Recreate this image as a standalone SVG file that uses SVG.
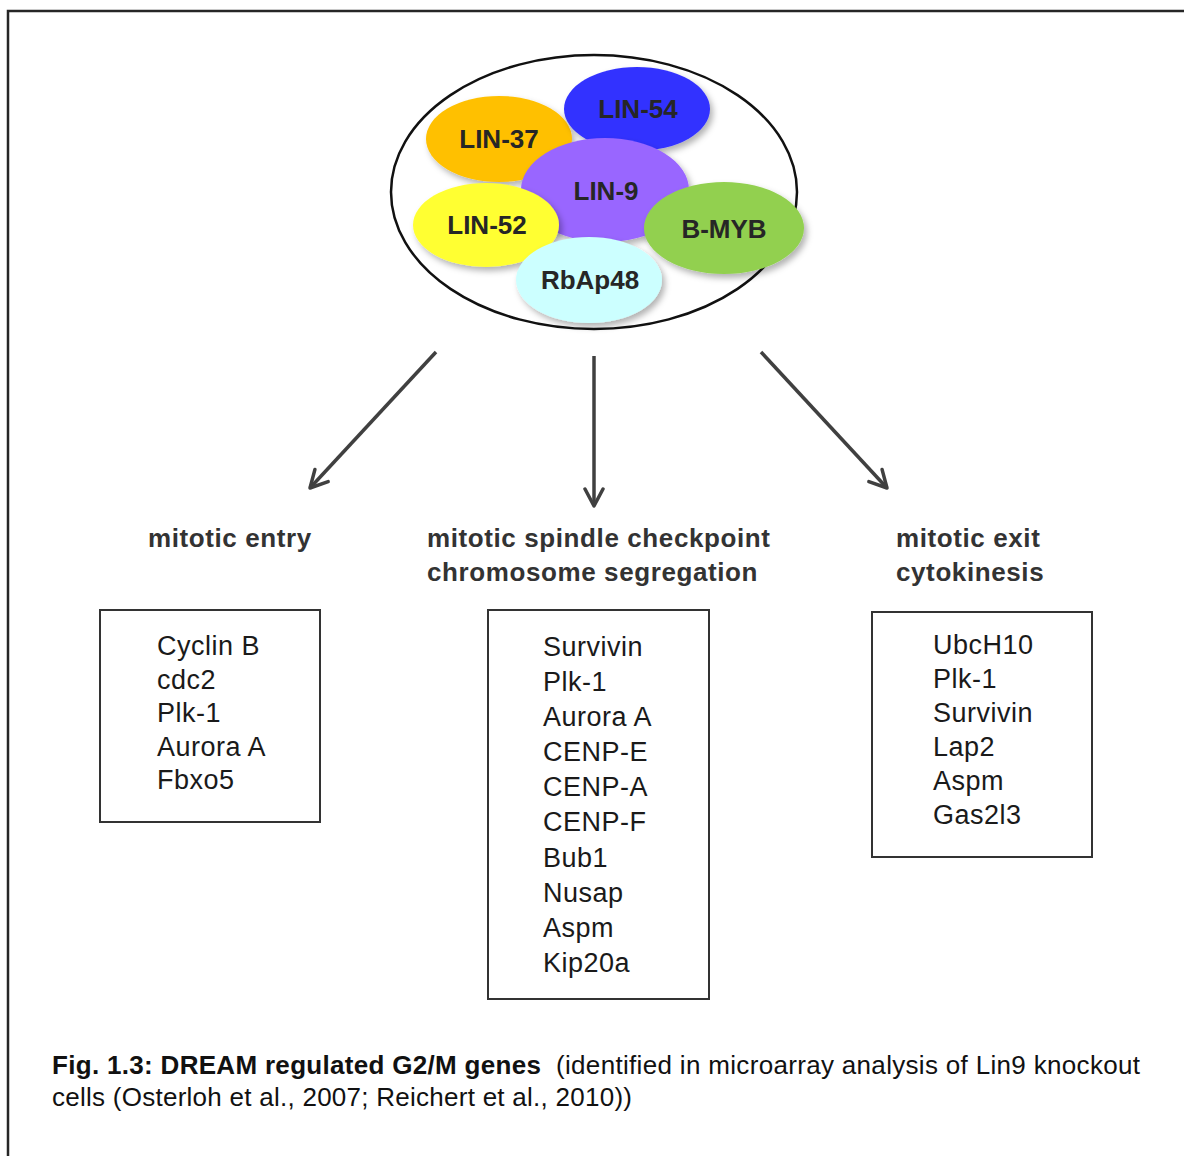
<svg xmlns="http://www.w3.org/2000/svg" width="1184" height="1156" viewBox="0 0 1184 1156">
<style>
.frame{fill:none;stroke:#262626;stroke-width:2.5}
.blob{filter:url(#sh)}
.lab{font-family:"Liberation Sans",Arial,sans-serif;font-weight:bold;font-size:26px;fill:#262626;text-anchor:middle}
.head{font-family:"Liberation Sans",Arial,sans-serif;font-weight:bold;font-size:26px;fill:#333;letter-spacing:0.6px}
.gene{font-family:"Liberation Sans",Arial,sans-serif;font-size:27px;fill:#1a1a1a;letter-spacing:0.5px}
.box{fill:none;stroke:#333;stroke-width:2}
.conn{stroke:#404040;stroke-width:3.5;fill:none;marker-end:url(#ah)}
.cap{font-family:"Liberation Sans",Arial,sans-serif;font-size:26px;fill:#111}
</style>
<defs>
<filter id="sh" x="-20%" y="-20%" width="150%" height="150%">
<feDropShadow dx="3" dy="4" stdDeviation="3" flood-color="#000" flood-opacity="0.3"/>
</filter>
<marker id="ah" viewBox="0 0 22 22" refX="19" refY="11" markerWidth="22" markerHeight="22" markerUnits="userSpaceOnUse" orient="auto">
<path d="M2,2 L19,11 L2,20" fill="none" stroke="#404040" stroke-width="3.5" stroke-linecap="round" stroke-linejoin="round"/>
</marker>
</defs>
<rect class="frame" x="8" y="11" width="1200" height="1200"/>
<g id="dream-complex">
<ellipse cx="594" cy="192" rx="203" ry="137" fill="#fff" stroke="#111" stroke-width="2.5"/>
<g id="lin37"><ellipse class="blob" cx="499" cy="139" rx="73" ry="43" fill="#ffc000"/><text class="lab" x="499" y="148">LIN-37</text></g>
<g id="lin54"><ellipse class="blob" cx="637" cy="109" rx="73" ry="42" fill="#3333ff"/><text class="lab" x="638" y="118">LIN-54</text></g>
<g id="lin9"><ellipse class="blob" cx="605" cy="190" rx="84" ry="52" fill="#9966ff"/><text class="lab" x="606" y="200">LIN-9</text></g>
<g id="lin52"><ellipse class="blob" cx="486" cy="225" rx="73" ry="42" fill="#ffff33"/><text class="lab" x="487" y="234">LIN-52</text></g>
<g id="bmyb"><ellipse class="blob" cx="724" cy="228" rx="80" ry="46" fill="#92d050"/><text class="lab" x="724" y="238">B-MYB</text></g>
<g id="rbap48"><ellipse class="blob" cx="589" cy="280" rx="73" ry="43" fill="#ccffff"/><text class="lab" x="590" y="289">RbAp48</text></g>
</g>
<g id="connectors">
<line class="conn" x1="436" y1="352" x2="310" y2="488"/>
<line class="conn" x1="594" y1="356" x2="594" y2="506"/>
<line class="conn" x1="761" y1="352" x2="887" y2="488"/>
</g>
<g id="mitotic-entry">
<text class="head" x="148" y="547">mitotic entry</text>
<rect class="box" x="100" y="610" width="220" height="212"/>
<text class="gene"><tspan x="157" y="655">Cyclin B</tspan><tspan x="157" y="689">cdc2</tspan><tspan x="157" y="722">Plk-1</tspan><tspan x="157" y="756">Aurora A</tspan><tspan x="157" y="789">Fbxo5</tspan></text>
</g>
<g id="spindle-checkpoint">
<text class="head" x="427" y="547">mitotic spindle checkpoint</text>
<text class="head" x="427" y="581">chromosome segregation</text>
<rect class="box" x="488" y="610" width="221" height="389"/>
<text class="gene"><tspan x="543" y="656">Survivin</tspan><tspan x="543" y="691">Plk-1</tspan><tspan x="543" y="726">Aurora A</tspan><tspan x="543" y="761">CENP-E</tspan><tspan x="543" y="796">CENP-A</tspan><tspan x="543" y="831">CENP-F</tspan><tspan x="543" y="867">Bub1</tspan><tspan x="543" y="902">Nusap</tspan><tspan x="543" y="937">Aspm</tspan><tspan x="543" y="972">Kip20a</tspan></text>
</g>
<g id="mitotic-exit">
<text class="head" x="896" y="547">mitotic exit</text>
<text class="head" x="896" y="581">cytokinesis</text>
<rect class="box" x="872" y="612" width="220" height="245"/>
<text class="gene"><tspan x="933" y="654">UbcH10</tspan><tspan x="933" y="688">Plk-1</tspan><tspan x="933" y="722">Survivin</tspan><tspan x="933" y="756">Lap2</tspan><tspan x="933" y="790">Aspm</tspan><tspan x="933" y="824">Gas2l3</tspan></text>
</g>
<g id="caption">
<text class="cap" x="52" y="1074" font-weight="bold" textLength="489" lengthAdjust="spacing">Fig. 1.3: DREAM regulated G2/M genes</text>
<text class="cap" x="556" y="1074" textLength="584" lengthAdjust="spacing">(identified in microarray analysis of Lin9 knockout</text>
<text class="cap" x="52" y="1106" textLength="580" lengthAdjust="spacing">cells (Osterloh et al., 2007; Reichert et al., 2010))</text>
</g>
</svg>
